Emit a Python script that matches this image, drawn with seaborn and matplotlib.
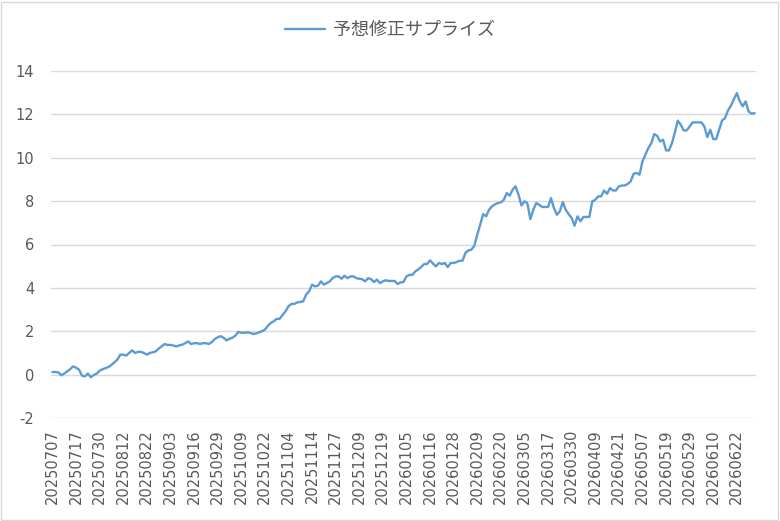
import matplotlib
matplotlib.use("Agg")
import matplotlib.pyplot as plt
import seaborn as sns
import pandas as pd
from matplotlib.patches import Rectangle
from matplotlib.lines import Line2D

series_name = "予想修正サプライズ"

tick_labels = [
    "20250707", "20250717", "20250730", "20250812", "20250822", "20250903",
    "20250916", "20250929", "20251009", "20251022", "20251104", "20251114",
    "20251127", "20251209", "20251219", "20260105", "20260116", "20260128",
    "20260209", "20260220", "20260305", "20260317", "20260330", "20260409",
    "20260421", "20260507", "20260519", "20260529", "20260610", "20260622",
]
tick_step = 8  # one label every 8 trading days

values = [
    0.12, 0.12, 0.10, -0.03, 0.05, 0.15, 0.25, 0.38, 0.32, 0.23,
    -0.05, -0.08, 0.05, -0.12, -0.02, 0.05, 0.18, 0.25, 0.30, 0.35,
    0.45, 0.57, 0.69, 0.92, 0.92, 0.88, 1.00, 1.12, 1.00, 1.05,
    1.05, 1.00, 0.92, 1.00, 1.03, 1.07, 1.20, 1.30, 1.41, 1.37,
    1.37, 1.34, 1.30, 1.35, 1.38, 1.45, 1.53, 1.41, 1.45, 1.45,
    1.41, 1.45, 1.45, 1.41, 1.50, 1.64, 1.72, 1.77, 1.70, 1.58,
    1.65, 1.70, 1.80, 1.97, 1.93, 1.93, 1.95, 1.93, 1.87, 1.90,
    1.95, 2.00, 2.07, 2.25, 2.38, 2.46, 2.57, 2.57, 2.75, 2.92,
    3.15, 3.26, 3.26, 3.33, 3.35, 3.38, 3.69, 3.84, 4.15, 4.07,
    4.10, 4.30, 4.15, 4.22, 4.30, 4.45, 4.53, 4.53, 4.42, 4.56,
    4.45, 4.53, 4.53, 4.45, 4.42, 4.40, 4.30, 4.45, 4.40, 4.27,
    4.38, 4.22, 4.30, 4.35, 4.32, 4.32, 4.32, 4.18, 4.25, 4.27,
    4.53, 4.60, 4.60, 4.76, 4.85, 4.96, 5.10, 5.10, 5.27, 5.12,
    4.99, 5.15, 5.10, 5.15, 4.96, 5.15, 5.15, 5.19, 5.25, 5.25,
    5.61, 5.73, 5.76, 5.94, 6.45, 6.91, 7.40, 7.30, 7.60, 7.76,
    7.85, 7.91, 7.94, 8.06, 8.37, 8.25, 8.53, 8.68, 8.29, 7.80,
    7.99, 7.90, 7.17, 7.60, 7.91, 7.83, 7.73, 7.73, 7.73, 8.14,
    7.68, 7.37, 7.53, 7.96, 7.60, 7.40, 7.22, 6.87, 7.30, 7.07,
    7.27, 7.27, 7.27, 7.99, 8.06, 8.22, 8.22, 8.49, 8.34, 8.60,
    8.49, 8.49, 8.68, 8.72, 8.72, 8.79, 8.91, 9.26, 9.30, 9.22,
    9.83, 10.14, 10.45, 10.67, 11.09, 11.01, 10.75, 10.83, 10.34, 10.34,
    10.67, 11.17, 11.71, 11.52, 11.26, 11.26, 11.44, 11.63, 11.63, 11.63,
    11.63, 11.44, 10.95, 11.29, 10.86, 10.86, 11.29, 11.72, 11.83, 12.18,
    12.40, 12.70, 12.98, 12.60, 12.37, 12.60, 12.13, 12.03, 12.06,
]

y_ticks = [-2, 0, 2, 4, 6, 8, 10, 12, 14]

sns.set_theme(style="white")
plt.rcParams["font.family"] = ["DejaVu Sans", "Noto Sans CJK JP"]

df = pd.DataFrame({"idx": range(len(values)), "value": values, "series": series_name})

fig = plt.figure(figsize=(7.8, 5.21), dpi=100)
ax = fig.add_axes([51 / 780, 1 - 418 / 521, (756 - 51) / 780, (418 - 71) / 521])

sns.lineplot(data=df, x="idx", y="value", hue="series", palette=["#5b9bd5"],
             linewidth=1.7, ax=ax, legend=False)

ax.set_xlim(-0.5, len(values) - 0.5)
ax.set_ylim(-2, 14)
ax.set_yticks(y_ticks)
ax.set_yticklabels([str(t) for t in y_ticks])
ax.set_xticks(list(range(0, tick_step * len(tick_labels), tick_step)))
ax.set_xticklabels(tick_labels, rotation=90)
ax.tick_params(axis="both", length=0, colors="#595959", labelsize=10.5)
ax.tick_params(axis="x", pad=8)
ax.tick_params(axis="y", pad=12)
ax.set_xlabel("")
ax.set_ylabel("")
ax.grid(axis="y", color="#d9d9d9", linewidth=1.0)
ax.grid(axis="x", visible=False)
for s in ax.spines.values():
    s.set_visible(False)
ax.set_axisbelow(True)

handle = Line2D([], [], color="#5b9bd5", linewidth=1.7)
leg = fig.legend([handle], [series_name], loc="upper center",
                 bbox_to_anchor=(0.5, 0.99), frameon=False,
                 prop={"family": ["Noto Sans CJK JP"], "size": 13},
                 handlelength=2.2, handletextpad=0.45)
for t in leg.get_texts():
    t.set_color("#595959")

fig.patches.append(Rectangle((0.001, 0.001), 0.996, 0.996, transform=fig.transFigure,
                             fill=False, edgecolor="#d9d9d9", linewidth=1.0))

fig.savefig("out.png", dpi=100)
